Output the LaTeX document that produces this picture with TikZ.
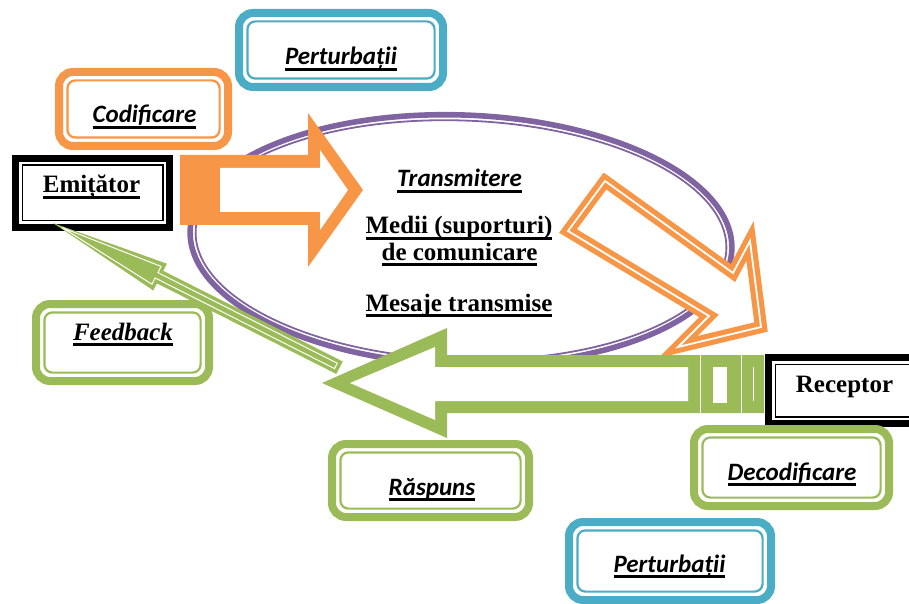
\documentclass[tikz,border=0pt]{standalone}
\usepackage{fontspec}
\setmainfont{Liberation Serif}
\newfontfamily\calfont{Carlito}
\usetikzlibrary{positioning}

\definecolor{oran}{HTML}{F79646}
\definecolor{gren}{HTML}{9BBB59}
\definecolor{blu}{HTML}{4BACC6}
\definecolor{purp}{HTML}{8064A2}

% thick underline as in the original
\newcommand\undl[1]{\setbox0\hbox{#1}\rlap{\rule[-3pt]{\wd0}{1.4pt}}\box0}

\tikzset{
  cbox/.style={draw=#1, fill=white, line width=4pt, rounded corners=7pt,
    outer sep=0pt, inner sep=0pt,
    path picture={\draw[#1, line width=1.1pt, rounded corners=4pt]
      ([shift={(4.2pt,4.2pt)}]path picture bounding box.south west) rectangle
      ([shift={(-4.2pt,-4.2pt)}]path picture bounding box.north east);}},
  kbox/.style={draw=black, fill=white, line width=3.5pt, outer sep=0pt, inner sep=0pt,
    path picture={\draw[black, line width=0.8pt]
      ([shift={(3.4pt,3.4pt)}]path picture bounding box.south west) rectangle
      ([shift={(-3.4pt,-3.4pt)}]path picture bounding box.north east);}},
  lbl/.style={font=\calfont\bfseries\itshape\fontsize{12.5}{14}\selectfont, anchor=base},
  ttl/.style={font=\bfseries\fontsize{12.5}{13}\selectfont, anchor=base},
}

\begin{document}
\begin{tikzpicture}[x=0.5pt, y=-0.5pt]
\useasboundingbox (0,0) rectangle (909,604);
\clip (0,0) rectangle (909,604);

% ======================================
% THE CHANNEL (ELLIPSE)
% ======================================
\begin{scope}[rotate around={-2:(461,240)}]
\draw[purp, line width=2.8pt] (461,240) ellipse (271 and 125);
\draw[purp, line width=0.9pt] (461,240) ellipse (265.5 and 119.5);
\end{scope}

% ======================================
% ORANGE ARROWS: CODIFICARE -> TRANSMITERE -> RECEPTOR
% ======================================
\fill[oran] (180,155) -- (308,155) -- (308,113) -- (363,190) -- (308,267) -- (308,225) -- (180,225) -- cycle;
\fill[white] (220,168) -- (320,168) -- (320,150) -- (348,190) -- (320,230) -- (320,212) -- (220,212) -- cycle;

\draw[oran, fill=white, line width=2.6pt, double=white, double distance=0.9pt, line join=miter]
  (605,181) -- (733,273) -- (750,241) -- (761,327) -- (678,347) -- (709,316) -- (568,231) -- cycle;

% ======================================
% GREEN ARROW: RASPUNS
% ======================================
\fill[gren] (764,355) -- (447,355) -- (447,328) -- (322,383) -- (447,438) -- (447,413) -- (764,413) -- cycle;
\fill[white] (688,367) -- (435,367) -- (435,347) -- (350,383) -- (435,420) -- (435,401) -- (688,401) -- cycle;
\fill[white] (713,367) rectangle (727,403);
\draw[white, line width=0.5pt] (700,355) -- (700,413) (741,355) -- (741,413) (753,367) -- (753,401);

% ======================================
% BOXES
% ======================================
\node[cbox=blu, minimum width=102pt, minimum height=37pt] (pert1) at (341,50) {};
\node[lbl] (pert1t) at (341,65) {\undl{Perturbații}};

\node[cbox=oran, minimum width=84.5pt, minimum height=37pt] (codif) at (143.5,109) {};
\node[lbl] (codift) at (144.5,123) {\undl{Codificare}};

\node[kbox, minimum width=77pt, minimum height=34.5pt] (emit) at (92.5,193) {};
\node[ttl] (emitt) at (91.5,193) {\undl{Emițător}};

\node[kbox, minimum width=76.5pt, minimum height=33pt] (recep) at (845,390.5) {};
\node[ttl] (recept) at (844.5,392) {Receptor};

\node[cbox=gren, minimum width=86.5pt, minimum height=38.5pt] (feedb) at (122.5,342.5) {};
\node[font=\bfseries\itshape\fontsize{12.5}{14}\selectfont, anchor=base] (feedbt) at (123,340) {\undl{Feedback}};

\node[cbox=gren, minimum width=98.5pt, minimum height=36.5pt] (rasp) at (430.5,480.5) {};
\node[lbl] (raspt) at (432,495) {\undl{Răspuns}};

\node[cbox=gren, minimum width=97.5pt, minimum height=38.5pt] (decod) at (791.5,467.5) {};
\node[lbl] (decodt) at (792,480) {\undl{Decodificare}};

\node[cbox=blu, minimum width=101pt, minimum height=39pt] (pert2) at (670,561) {};
\node[lbl] (pert2t) at (669.5,572) {\undl{Perturbații}};

% texts inside the channel
\node[lbl] (transm) at (459.5,187) {\undl{Transmitere}};
\node[ttl] (medii) at (459,234) {\undl{Medii (suporturi)}};
\node[ttl] (comun) at (459.5,260) {\undl{de comunicare}};
\node[ttl] (mesaj) at (459,311) {\undl{Mesaje transmise}};

% ======================================
% FEEDBACK ARROW (back to the emitter)
% ======================================
\begin{scope}[shift={(53,223)}, rotate=-26.8]
\fill[gren] (0,0) -- (120,-15) -- (120,-7) -- (321,-7) -- (321,7) -- (120,7) -- (120,15) -- cycle;
\draw[white, line width=0.5pt] (10,0) -- (116,-10) -- (116,-3) -- (317,-3) -- (317,3) -- (116,3) -- (116,10) -- cycle;
\end{scope}

\end{tikzpicture}
\end{document}
